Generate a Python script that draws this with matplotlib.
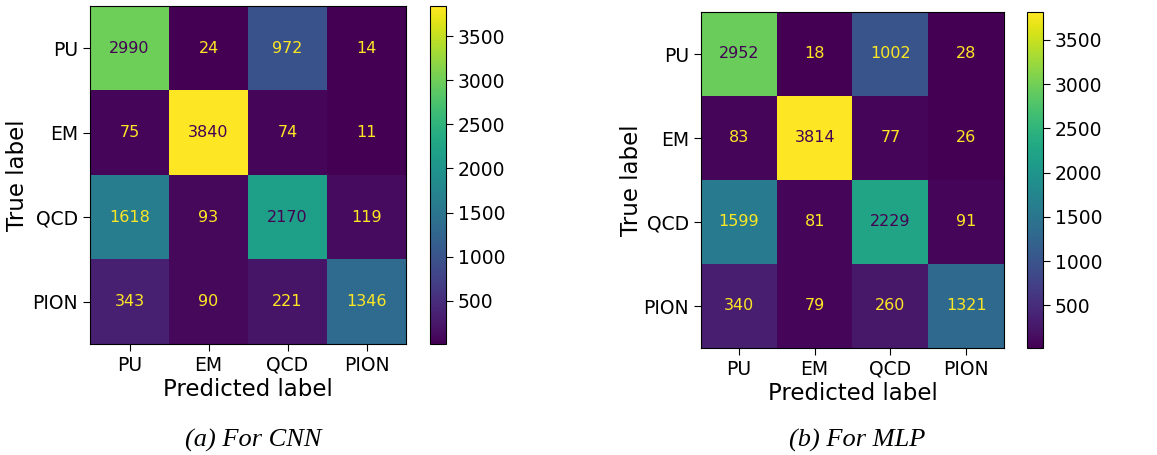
import numpy as np
import matplotlib
matplotlib.use("Agg")
import matplotlib.pyplot as plt

labels = ["PU", "EM", "QCD", "PION"]
cnn = [[2990, 24, 972, 14],
       [75, 3840, 74, 11],
       [1618, 93, 2170, 119],
       [343, 90, 221, 1346]]
mlp = [[2952, 18, 1002, 28],
       [83, 3814, 77, 26],
       [1599, 81, 2229, 91],
       [340, 79, 260, 1321]]
captions = ["(a) For CNN", "(b) For MLP"]

plt.rcParams["font.family"] = "DejaVu Sans"

W, H = 1157, 455
fig = plt.figure(figsize=(W / 100, H / 100), dpi=100)
cmap = plt.get_cmap("viridis")


def px(l, t, r, b):
    return [l / W, 1 - b / H, (r - l) / W, (b - t) / H]


panels = [
    (cnn, px(90, 6, 406, 344), px(430, 6, 446, 344), 253, 29),
    (mlp, px(701, 12, 1004, 348), px(1027, 12, 1043, 348), 857, 643),
]

for (data, axr, caxr, capx, ylx), cap in zip(panels, captions):
    m = np.array(data)
    ax = fig.add_axes(axr)
    cax = fig.add_axes(caxr)
    im = ax.imshow(m, cmap=cmap, vmin=m.min(), vmax=m.max(), aspect="auto")
    thresh = (m.max() + m.min()) / 2
    for i in range(m.shape[0]):
        for j in range(m.shape[1]):
            c = cmap(0.0) if m[i, j] > thresh else cmap(1.0)
            ax.text(j, i, str(m[i, j]), ha="center", va="center", color=c, fontsize=11.5)
    ax.set_xticks(range(len(labels)))
    ax.set_yticks(range(len(labels)))
    ax.set_xticklabels(labels, fontsize=13.5)
    ax.set_yticklabels(labels, fontsize=13.5)
    ax.tick_params(length=5)
    ax.set_xlabel("Predicted label", fontsize=16.5, labelpad=2)
    ax.set_ylabel("True label", fontsize=16.5)
    ax.yaxis.set_label_coords((ylx - axr[0] * W) / (axr[2] * W), 0.5)
    cb = fig.colorbar(im, cax=cax)
    cb.set_ticks([500, 1000, 1500, 2000, 2500, 3000, 3500])
    cb.ax.tick_params(labelsize=13.5, length=5)
    fig.text(capx / W, 1 - 440 / H, cap, ha="center", va="center",
             fontsize=19, family="Liberation Serif", style="italic")

fig.savefig("out.png", dpi=100)
